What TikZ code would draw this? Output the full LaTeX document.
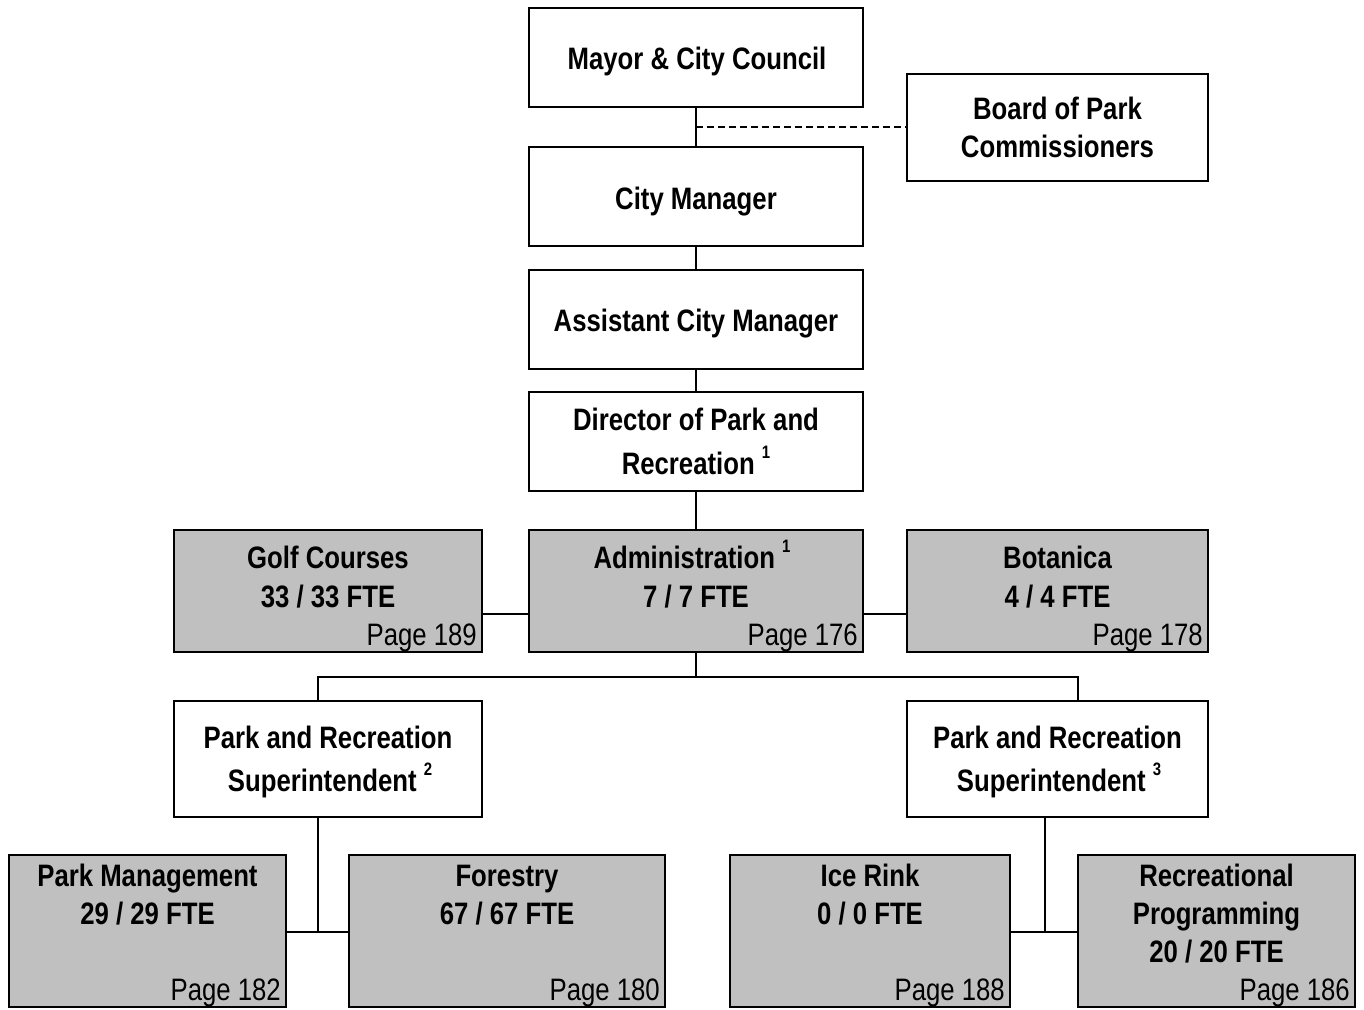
\documentclass[tikz,border=0pt]{standalone}
\usepackage{fontspec}
\setmainfont{Liberation Sans}[FakeStretch=0.83]
\newcommand{\supnum}[1]{\raisebox{16pt}{\fontsize{18}{18}\selectfont\bfseries #1}}
\begin{document}
\begin{tikzpicture}[x=1pt,y=-1pt,
  wbox/.style={draw=black, line width=2pt, fill=white, inner sep=0pt},
  gbox/.style={draw=black, line width=2pt, fill=gray75, inner sep=0pt},
  ttl/.style={anchor=base, inner sep=0pt, font=\fontsize{31}{36}\selectfont\bfseries},
  pg/.style={anchor=base east, inner sep=0pt, font=\fontsize{31}{36}\selectfont},
  conn/.style={line width=2pt, draw=black},
  dconn/.style={line width=2.2pt, draw=black, dash pattern=on 7pt off 4pt}]
\definecolor{gray75}{HTML}{C0C0C0}
\useasboundingbox (0,0) rectangle (1364,1009);
% boxes
\node[wbox, minimum width=334pt, minimum height=99pt] (mayor) at (696,57.5) {};
\node[wbox, minimum width=301pt, minimum height=107pt] (board) at (1057.5,127.5) {};
\node[wbox, minimum width=334pt, minimum height=99pt] (cm) at (696,196.5) {};
\node[wbox, minimum width=334pt, minimum height=99pt] (acm) at (696,319.5) {};
\node[wbox, minimum width=334pt, minimum height=99pt] (dir) at (696,441.5) {};
\node[gbox, minimum width=308pt, minimum height=122pt] (golf) at (328,591) {};
\node[gbox, minimum width=334pt, minimum height=122pt] (admin) at (696,591) {};
\node[gbox, minimum width=301pt, minimum height=122pt] (bot) at (1057.5,591) {};
\node[wbox, minimum width=308pt, minimum height=116pt] (supa) at (328,759) {};
\node[wbox, minimum width=301pt, minimum height=116pt] (supb) at (1057.5,759) {};
\node[gbox, minimum width=277pt, minimum height=152pt] (pm) at (147.5,931) {};
\node[gbox, minimum width=316pt, minimum height=152pt] (fo) at (507,931) {};
\node[gbox, minimum width=280pt, minimum height=152pt] (ice) at (870,931) {};
\node[gbox, minimum width=277pt, minimum height=152pt] (rec) at (1216.5,931) {};
% connector helper coordinates
\coordinate (dashj) at (696,127);
\coordinate (golfj) at (482,614);
\coordinate (adminL) at (529,614);
\coordinate (adminR) at (863,614);
\coordinate (botj) at (907,614);
\coordinate (busc) at (696,677);
\coordinate (busl) at (318,677);
\coordinate (busr) at (1078,677);
\coordinate (supatop) at (318,701);
\coordinate (supbtop) at (1078,701);
\coordinate (supabot) at (318,817);
\coordinate (supbbot) at (1045,817);
\coordinate (ja) at (318,932);
\coordinate (jb) at (1045,932);
\coordinate (pmR) at (286,932);
\coordinate (foL) at (349,932);
\coordinate (iceR) at (1010,932);
\coordinate (recL) at (1078,932);
% connectors
\draw[conn] (mayor.south) -- (cm.north);
\draw[dconn] (dashj) -- (board.west |- dashj);
\draw[conn] (cm.south) -- (acm.north);
\draw[conn] (acm.south) -- (dir.north);
\draw[conn] (dir.south) -- (admin.north);
\draw[conn] (golfj) -- (adminL);
\draw[conn] (adminR) -- (botj);
\draw[conn] (admin.south) -- (busc);
\draw[conn] (supatop) -- (busl) -- (busr) -- (supbtop);
\draw[conn] (supabot) -- (ja);
\draw[conn] (pmR) -- (foL);
\draw[conn] (supbbot) -- (jb);
\draw[conn] (iceR) -- (recL);
% texts
\node[ttl] (mayor-t) at (697,69) {Mayor \& City Council};
\node[ttl] (board-t1) at (1057.5,119) {Board of Park};
\node[ttl] (board-t2) at (1057.5,157) {Commissioners};
\node[ttl] (cm-t) at (696,209) {City Manager};
\node[ttl] (acm-t) at (696,331) {Assistant City Manager};
\node[ttl] (dir-t1) at (696,430) {Director of Park and};
\node[ttl] (dir-t2) at (696,474) {Recreation \supnum{1}};
\node[ttl] (golf-t1) at (328,568) {Golf Courses};
\node[ttl] (golf-t2) at (328,607) {33 / 33 FTE};
\node[pg] (golf-p) at (477,645) {Page 189};
\node[ttl] (admin-t1) at (692,568) {Administration \supnum{1}};
\node[ttl] (admin-t2) at (696,607) {7 / 7 FTE};
\node[pg] (admin-p) at (858,645) {Page 176};
\node[ttl] (bot-t1) at (1057.5,568) {Botanica};
\node[ttl] (bot-t2) at (1057.5,607) {4 / 4 FTE};
\node[pg] (bot-p) at (1203,645) {Page 178};
\node[ttl] (supa-t1) at (328,748) {Park and Recreation};
\node[ttl] (supa-t2) at (330,791) {Superintendent \supnum{2}};
\node[ttl] (supb-t1) at (1057.5,748) {Park and Recreation};
\node[ttl] (supb-t2) at (1059,791) {Superintendent \supnum{3}};
\node[ttl] (pm-t1) at (147.5,886) {Park Management};
\node[ttl] (pm-t2) at (147.5,924) {29 / 29 FTE};
\node[pg] (pm-p) at (281,1000) {Page 182};
\node[ttl] (fo-t1) at (507,886) {Forestry};
\node[ttl] (fo-t2) at (507,924) {67 / 67 FTE};
\node[pg] (fo-p) at (660,1000) {Page 180};
\node[ttl] (ice-t1) at (870,886) {Ice Rink};
\node[ttl] (ice-t2) at (870,924) {0 / 0 FTE};
\node[pg] (ice-p) at (1005,1000) {Page 188};
\node[ttl] (rec-t1) at (1216.5,886) {Recreational};
\node[ttl] (rec-t2) at (1216.5,924) {Programming};
\node[ttl] (rec-t3) at (1216.5,962) {20 / 20 FTE};
\node[pg] (rec-p) at (1350,1000) {Page 186};
\end{tikzpicture}
\end{document}
